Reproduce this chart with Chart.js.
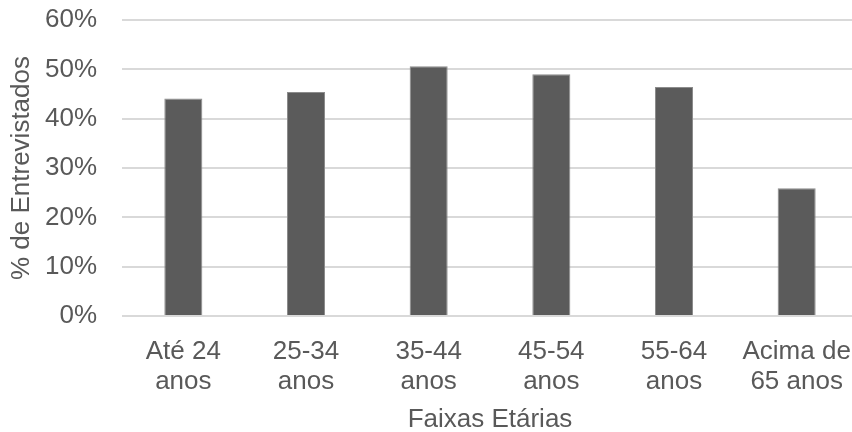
<!DOCTYPE html>
<html>
<head>
<meta charset="utf-8">
<script src="https://cdn.jsdelivr.net/npm/chart.js@4/dist/chart.umd.min.js"></script>
<style>
  html, body { margin: 0; padding: 0; background: #fff; overflow: hidden; }
  #wrap { width: 858px; height: 432px; }
</style>
</head>
<body>
<div id="wrap"><canvas id="chart" width="858" height="432"></canvas></div>
<script>
const categories = [['Até 24', 'anos'], ['25-34', 'anos'], ['35-44', 'anos'], ['45-54', 'anos'], ['55-64', 'anos'], ['Acima de', '65 anos']];
const values = [44.1, 45.4, 50.6, 49.0, 46.4, 25.9];
const yTicks = [0, 10, 20, 30, 40, 50, 60];

const textColor = '#595959';
const fontFamily = 'Liberation Sans, Arial, sans-serif';

new Chart(document.getElementById('chart'), {
    type: 'bar',
    data: {
        labels: categories,
        datasets: [{
            data: values,
            backgroundColor: '#5b5b5b',
            borderColor: '#8c8c8c',
            borderWidth: 1,
            barPercentage: 0.31,
            categoryPercentage: 1
        }]
    },
    options: {
        responsive: false,
        animation: false,
        layout: { padding: { top: 20, left: 0, right: 0, bottom: 0 } },
        plugins: { legend: { display: false }, tooltip: { enabled: false } },
        scales: {
            x: {
                afterFit: (axis) => {
                    axis.height = 116;
                    axis.paddingLeft = 0;
                    axis.paddingRight = 0;
                },
                grid: { display: false },
                border: { display: false },
                ticks: {
                    color: textColor,
                    font: { family: fontFamily, size: 26, lineHeight: 1.15 },
                    maxRotation: 0,
                    padding: 13
                },
                title: {
                    display: true,
                    text: 'Faixas Etárias',
                    color: textColor,
                    font: { family: fontFamily, size: 26 },
                    padding: { top: 0, bottom: -3 }
                }
            },
            y: {
                min: 0,
                max: 60,
                afterBuildTicks: (axis) => { axis.ticks = yTicks.map(v => ({ value: v })); },
                afterFit: (axis) => {
                    axis.width = 122;
                    axis.paddingTop = 0;
                    axis.paddingBottom = 0;
                },
                grid: { color: '#d9d9d9', lineWidth: 2, drawTicks: false },
                border: { display: false },
                ticks: {
                    color: textColor,
                    font: { family: fontFamily, size: 26 },
                    padding: 25,
                    callback: (v) => v + '%'
                },
                title: {
                    display: true,
                    text: '% de Entrevistados',
                    color: textColor,
                    font: { family: fontFamily, size: 26 },
                    padding: 6
                }
            }
        }
    }
});
</script>
</body>
</html>
